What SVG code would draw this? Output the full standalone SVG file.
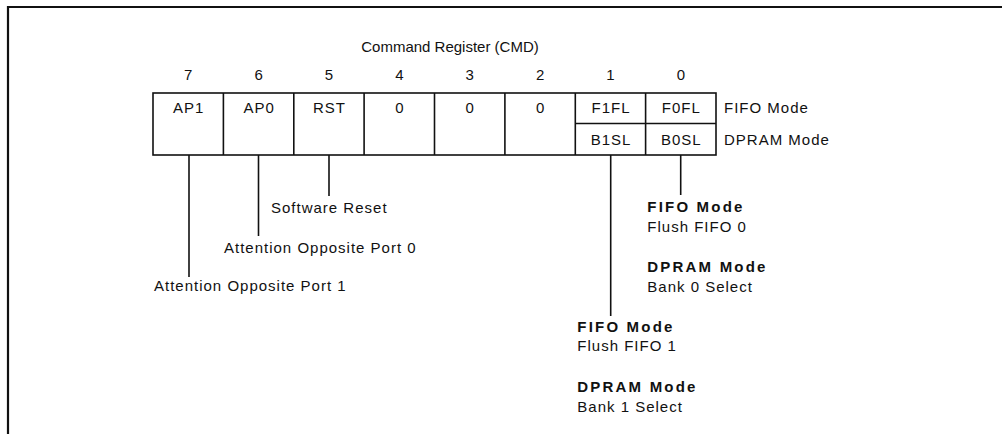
<svg xmlns="http://www.w3.org/2000/svg" width="1002" height="434" viewBox="0 0 1002 434">
<style>
  text { font-family: "Liberation Sans", Arial, sans-serif; font-size: 15px; fill: #111; letter-spacing: 1px; }
  .c { text-anchor: middle; }
  .b { font-weight: bold; letter-spacing: 2.2px; }
  .t { letter-spacing: 0px; }
  .ln { stroke: #111; stroke-width: 1.6; fill: none; }
  .fr { stroke: #111; stroke-width: 2.2; fill: none; }
</style>
<rect width="1002" height="434" fill="#fff"/>
<g id="frame">
  <polyline class="fr" points="8,434 8,7 1002,7"/>
</g>
<g id="title">
  <text class="c t" x="450" y="52">Command Register (CMD)</text>
</g>
<g id="bit-numbers">
  <text class="c" x="188.7" y="80">7</text>
  <text class="c" x="259.1" y="80">6</text>
  <text class="c" x="329.5" y="80">5</text>
  <text class="c" x="399.8" y="80">4</text>
  <text class="c" x="470.2" y="80">3</text>
  <text class="c" x="540.6" y="80">2</text>
  <text class="c" x="611" y="80">1</text>
  <text class="c" x="681.3" y="80">0</text>
</g>
<g id="register">
  <rect class="ln" x="153" y="93" width="563" height="62"/>
  <line class="ln" x1="223.4" y1="93" x2="223.4" y2="155"/>
  <line class="ln" x1="293.8" y1="93" x2="293.8" y2="155"/>
  <line class="ln" x1="364.1" y1="93" x2="364.1" y2="155"/>
  <line class="ln" x1="434.5" y1="93" x2="434.5" y2="155"/>
  <line class="ln" x1="504.9" y1="93" x2="504.9" y2="155"/>
  <line class="ln" x1="575.3" y1="93" x2="575.3" y2="155"/>
  <line class="ln" x1="645.6" y1="93" x2="645.6" y2="155"/>
  <line class="ln" x1="575.3" y1="123.5" x2="716" y2="123.5"/>
</g>
<g id="bit7"><text class="c" x="188.7" y="112.5">AP1</text></g>
<g id="bit6"><text class="c" x="259.1" y="112.5">AP0</text></g>
<g id="bit5"><text class="c" x="329.5" y="112.5">RST</text></g>
<g id="bit4"><text class="c" x="399.8" y="112.5">0</text></g>
<g id="bit3"><text class="c" x="470.2" y="112.5">0</text></g>
<g id="bit2"><text class="c" x="540.6" y="112.5">0</text></g>
<g id="bit1">
  <text class="c" x="611" y="112.5">F1FL</text>
  <text class="c" x="611" y="145">B1SL</text>
</g>
<g id="bit0">
  <text class="c" x="681.3" y="112.5">F0FL</text>
  <text class="c" x="681.3" y="145">B0SL</text>
</g>
<g id="mode-labels">
  <text x="724" y="112.5">FIFO Mode</text>
  <text x="724" y="145">DPRAM Mode</text>
</g>
<g id="connectors">
  <line class="ln" x1="189" y1="155" x2="189" y2="277"/>
  <line class="ln" x1="258.5" y1="155" x2="258.5" y2="236"/>
  <line class="ln" x1="329" y1="155" x2="329" y2="196"/>
  <line class="ln" x1="610.7" y1="155" x2="610.7" y2="316"/>
  <line class="ln" x1="680.7" y1="155" x2="680.7" y2="195"/>
</g>
<g id="desc-rst"><text x="271" y="212.5">Software Reset</text></g>
<g id="desc-ap0"><text x="224" y="252.5">Attention Opposite Port 0</text></g>
<g id="desc-ap1"><text x="154" y="290.5">Attention Opposite Port 1</text></g>
<g id="desc-bit0">
  <text class="b" x="647.3" y="212">FIFO Mode</text>
  <text x="647.3" y="232">Flush FIFO 0</text>
  <text class="b" x="647.3" y="272">DPRAM Mode</text>
  <text x="647.3" y="291.5">Bank 0 Select</text>
</g>
<g id="desc-bit1">
  <text class="b" x="577.3" y="331.5">FIFO Mode</text>
  <text x="577.3" y="351">Flush FIFO 1</text>
  <text class="b" x="577.3" y="392">DPRAM Mode</text>
  <text x="577.3" y="411.5">Bank 1 Select</text>
</g>
</svg>
